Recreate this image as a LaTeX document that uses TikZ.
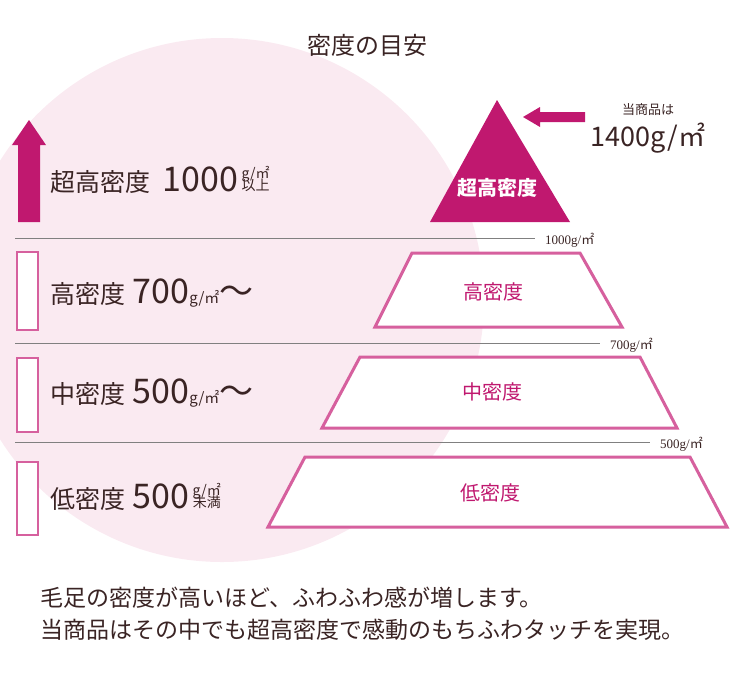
\documentclass[tikz,border=0pt]{standalone}
\usepackage{fontspec}
\usetikzlibrary{positioning}
\setmainfont{Noto Sans CJK JP}
\newfontfamily\serifnum{Liberation Serif}
\newfontfamily\jpfont{Noto Sans CJK JP}
\definecolor{deep}{HTML}{C0186F}
\definecolor{soft}{HTML}{D6609E}
\definecolor{blush}{HTML}{FAEAF1}
\definecolor{ink}{HTML}{3A2424}
\tikzset{
  level/.style  = {draw=soft, line width=3pt, fill=white},
  marker/.style = {draw=soft, line width=2.5pt, fill=white},
  rule/.style   = {draw=gray, line width=0.6pt},
  rulelbl/.style= {anchor=west, font=\serifnum\fontsize{13}{13}\selectfont, text=ink, inner sep=0pt},
  tag/.style    = {anchor=west, text=ink, inner sep=0pt},
  lvltxt/.style = {text=deep, font=\fontsize{20}{20}\selectfont}
}
\newcommand{\unitstack}[2]{\begin{tabular}{@{}c@{}}\fontsize{14}{15}\selectfont #1\\[-3pt]\fontsize{14}{15}\selectfont #2\end{tabular}}
\newcommand{\sqm}{{\jpfont ㎡}}
\begin{document}
\begin{tikzpicture}[x=1pt,y=-1pt]
  \useasboundingbox (0,0) rectangle (730,678);
  % background disc
  \begin{scope}
    \clip (0,0) rectangle (730,678);
    \fill [blush] (222,300) circle (262);
  \end{scope}
  \node [text=ink, font=\fontsize{24}{24}\selectfont] (title) at (367,45) {密度の目安};

  % dividing rules
  \coordinate (r1a) at (15,238);  \coordinate (r1b) at (535,238);
  \coordinate (r2a) at (15,343);  \coordinate (r2b) at (600,343);
  \coordinate (r3a) at (15,442);  \coordinate (r3b) at (650,442);
  \draw [rule] (r1a) -- (r1b);
  \draw [rule] (r2a) -- (r2b);
  \draw [rule] (r3a) -- (r3b);
  \node [rulelbl] (l1) at (545,240) {1000g/\sqm};
  \node [rulelbl] (l2) at (610,345) {700g/\sqm};
  \node [rulelbl] (l3) at (660,444) {500g/\sqm};

  % left column
  \fill [deep] (18,222) -- (18,145) -- (12,145) -- (29,120) -- (46,145) -- (40,145) -- (40,222) -- cycle;
  \draw [marker] (17,252) rectangle (38,330);
  \draw [marker] (17,358) rectangle (38,432);
  \draw [marker] (17,462) rectangle (38,535);

  \node [tag] (t1) at (50,180) {\fontsize{25}{25}\selectfont 超高密度\hspace{0.5em}\fontsize{34}{34}\selectfont 1000};
  \node [tag, right=3pt of t1] (u1) {\unitstack{g/㎡}{以上}};
  \node [tag] (t2) at (50,293) {\fontsize{25}{25}\selectfont 高密度\hspace{0.3em}\fontsize{34}{34}\selectfont 700\fontsize{15}{15}\selectfont g/㎡\fontsize{34}{34}\selectfont ～};
  \node [tag] (t3) at (50,393) {\fontsize{25}{25}\selectfont 中密度\hspace{0.3em}\fontsize{34}{34}\selectfont 500\fontsize{15}{15}\selectfont g/㎡\fontsize{34}{34}\selectfont ～};
  \node [tag] (t4) at (50,497) {\fontsize{25}{25}\selectfont 低密度\hspace{0.3em}\fontsize{34}{34}\selectfont 500};
  \node [tag, right=3pt of t4] (u4) {\unitstack{g/㎡}{未満}};

  % pyramid
  \fill [deep] (497,100) -- (570,222) -- (430,222) -- cycle;
  \node [text=white, font=\fontsize{20}{20}\selectfont\bfseries] (top) at (497,188) {超高密度};
  \draw [level] (412,253) -- (580,253) -- (622,327) -- (375,327) -- cycle;
  \node [lvltxt] (mid1) at (493,292) {高密度};
  \draw [level] (360,357) -- (640,357) -- (677,428) -- (322,428) -- cycle;
  \node [lvltxt] (mid2) at (492,392) {中密度};
  \draw [level] (305,457) -- (690,457) -- (727,527) -- (268,527) -- cycle;
  \node [lvltxt] (low) at (490,493) {低密度};

  % this product
  \node [text=ink, font=\fontsize{13}{13}\selectfont] (ours) at (648,110) {当商品は};
  \node [text=ink, font=\fontsize{27}{27}\selectfont, below=0pt of ours] (ourval) {1400g/㎡};
  \fill [deep] (523,117) -- (540,107) -- (540,112) -- (585,112) -- (585,122) -- (540,122) -- (540,127) -- cycle;

  % caption
  \node [tag, font=\fontsize{23}{23}\selectfont] (c1) at (40,598) {毛足の密度が高いほど、ふわふわ感が増します。};
  \node [tag, font=\fontsize{23}{23}\selectfont] (c2) at (40,630) {当商品はその中でも超高密度で感動のもちふわタッチを実現。};
\end{tikzpicture}
\end{document}
